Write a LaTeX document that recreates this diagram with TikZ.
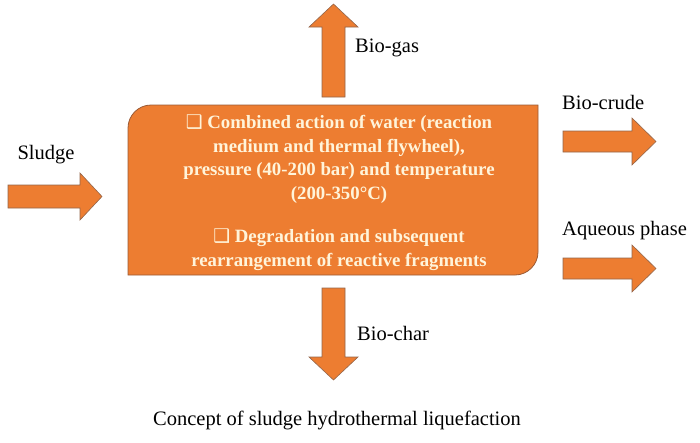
\documentclass[tikz,border=0pt]{standalone}
\usepackage{fontspec}
\setmainfont{Liberation Serif}
\newfontfamily\symfont{DejaVu Sans}

\definecolor{htlorange}{HTML}{ED7D31}
\definecolor{htlrim}{HTML}{9A5A35}
\definecolor{htlcream}{HTML}{FFF4DA}

\begin{document}
\begin{tikzpicture}[
    x=1pt, y=-1pt,
    fatarrow/.style={fill=htlorange, draw=htlrim!70!gray, line width=0.6pt},
    procbox/.style={fill=htlorange, draw=htlrim, line width=0.8pt},
    proctext/.style={align=center, text=htlcream, inner sep=0pt,
        font=\fontsize{18.8}{23.8}\selectfont\bfseries},
    flowlabel/.style={inner sep=0pt, font=\fontsize{20.5}{24}\selectfont}
]
    \useasboundingbox (0,0) rectangle (700,442);

    % reactor box
    \draw[procbox] (128,275) -- (128,128) .. controls (128,115.4) and (138.4,105) .. (151,105)
        -- (538,105) -- (538,252) .. controls (538,264.6) and (527.6,275) .. (515,275) -- cycle;
    \node[proctext] (proc) at (339,192.5)
        {{\symfont\mdseries ❑} Combined action of water (reaction\\
         medium and thermal flywheel),\\
         pressure (40-200 bar) and temperature\\
         (200-350°C)\\[19pt]
         {\symfont\mdseries ❑} Degradation and subsequent\\
         rearrangement of reactive fragments};

    % feed and products
    \draw[fatarrow] (8,185) -- (80,185) -- (80,173) -- (102,196.5)
        -- (80,220) -- (80,208) -- (8,208) -- cycle;
    \draw[fatarrow] (322,97) -- (322,27) -- (309,27) -- (333.5,4)
        -- (358,27) -- (345,27) -- (345,97) -- cycle;
    \draw[fatarrow] (322,288) -- (322,357) -- (309,357) -- (333.5,380)
        -- (358,357) -- (345,357) -- (345,288) -- cycle;
    \draw[fatarrow] (563,131) -- (632,131) -- (632,118) -- (656,141.5)
        -- (632,165) -- (632,152) -- (563,152) -- cycle;
    \draw[fatarrow] (563,258) -- (632,258) -- (632,245) -- (656,268.5)
        -- (632,292) -- (632,279) -- (563,279) -- cycle;

    \node[flowlabel] (sludge) at (46,155) {Sludge};
    \node[flowlabel, anchor=west] (biogas) at (355,48) {Bio-gas};
    \node[flowlabel, anchor=west] (biocrude) at (562,102) {Bio-crude};
    \node[flowlabel, anchor=west] (aqueous) at (562,231) {Aqueous phase};
    \node[flowlabel, anchor=west] (biochar) at (357,333) {Bio-char};

    \node[flowlabel] (caption) at (337,420)
        {Concept of sludge hydrothermal liquefaction};
\end{tikzpicture}
\end{document}
